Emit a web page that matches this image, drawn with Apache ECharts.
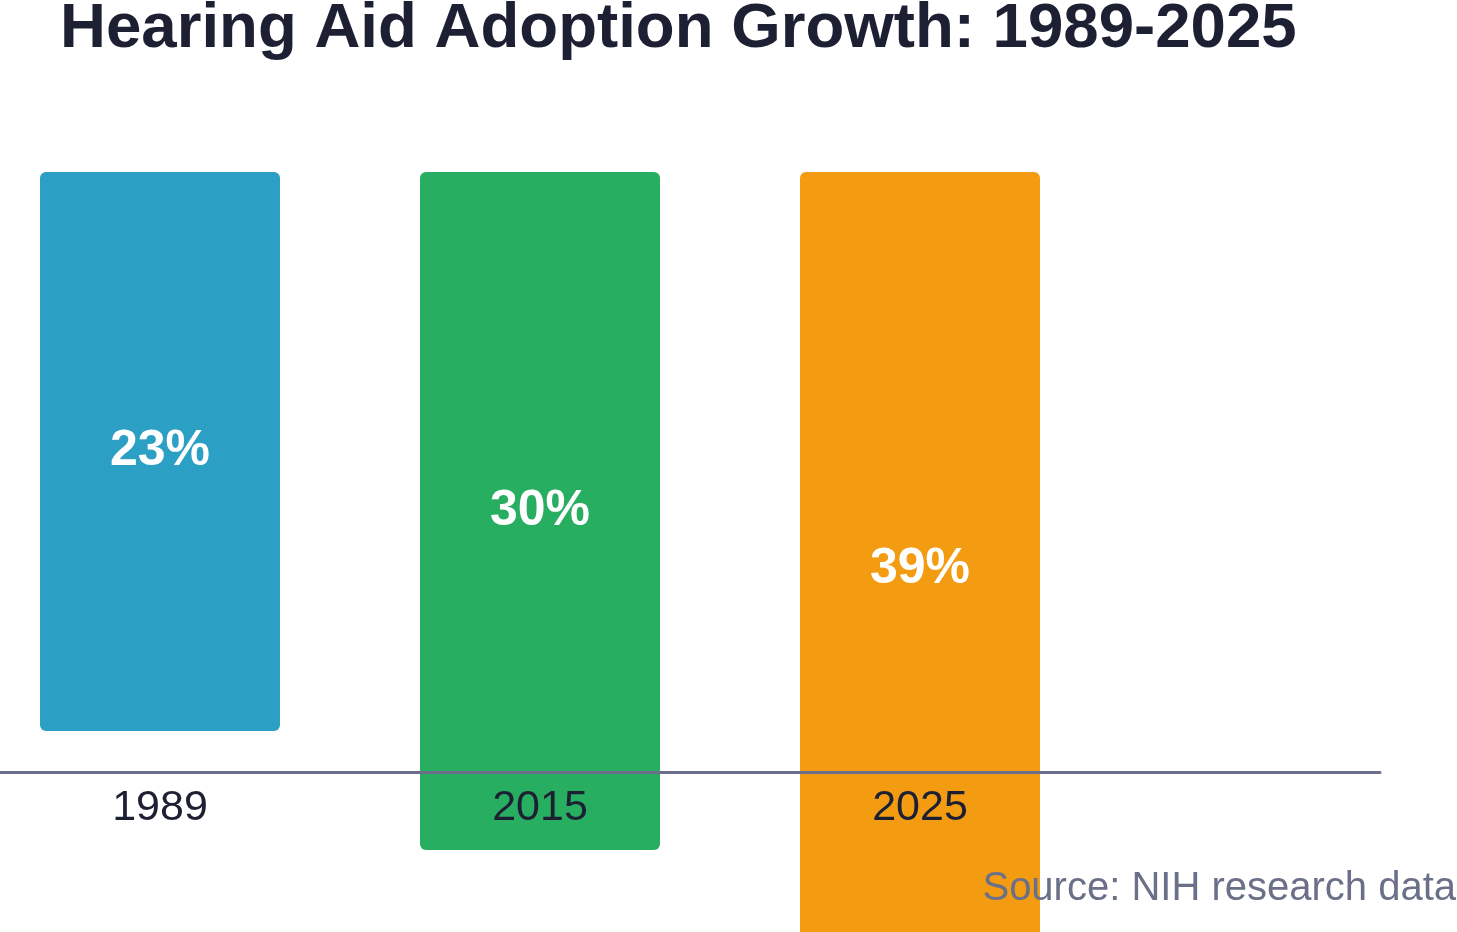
<!DOCTYPE html>
<html>
<head>
<meta charset="utf-8">
<script src="https://cdn.jsdelivr.net/npm/echarts@6/dist/echarts.min.js"></script>
<style>html,body{margin:0;padding:0;background:#fff;}#chart{width:1457px;height:932px;}</style>
</head>
<body>
<div id="chart"></div>
<script>
const categories = ['1989', '2015', '2025'];
const adoption = [23, 30, 39];
const barColors = ['#2b9fc4', '#27ae60', '#f39c12'];
const titleText = 'Hearing Aid Adoption Growth: 1989-2025';
const sourceText = 'Source: NIH research data';

const FONT = '"Liberation Sans", Arial, sans-serif';
const chart = echarts.init(document.getElementById('chart'), null, {renderer: 'canvas'});
chart.setOption({
  backgroundColor: '#ffffff',
  animation: false,
  title: [
    {text: titleText, left: 60, top: -3, padding: 0,
     textStyle: {fontFamily: FONT, fontSize: 63.6, fontWeight: 'bold', color: '#1d2033'}},
    {text: sourceText, right: 1, top: 869, padding: 0, z: 10,
     textStyle: {fontFamily: FONT, fontSize: 40, fontWeight: 'normal', color: '#6b7089'}}
  ],
  grid: [
    {left: -30, width: 1140, top: 172, height: 1217, outerBoundsMode: 'none', containLabel: false},
    {left: -30, width: 1140, top: 770, height: 2, outerBoundsMode: 'none'},
    {left: 0, width: 1380, top: 670, height: 102, outerBoundsMode: 'none'}
  ],
  xAxis: [
    {type: 'category', gridIndex: 0, data: categories, show: false},
    {type: 'category', gridIndex: 1, data: categories, z: 6,
     axisLine: {show: false}, axisTick: {show: false},
     axisLabel: {margin: 15, fontFamily: FONT, fontSize: 43, color: '#1d2033'}},
    {type: 'category', gridIndex: 2, data: [''], z: 6,
     axisLine: {show: true, lineStyle: {color: '#6b6f8a', width: 3}},
     axisTick: {show: false}, axisLabel: {show: false}}
  ],
  yAxis: [
    {type: 'log', gridIndex: 0, inverse: true, min: 6.6, max: 100, show: false},
    {type: 'value', gridIndex: 1, show: false},
    {type: 'value', gridIndex: 2, show: false}
  ],
  series: [{
    type: 'bar',
    xAxisIndex: 0, yAxisIndex: 0,
    clip: true,
    barWidth: 240,
    data: adoption.map((v, i) => ({value: v, itemStyle: {color: barColors[i]}})),
    itemStyle: {borderRadius: 6},
    label: {show: true, position: 'inside', formatter: '{c}%',
      fontFamily: FONT, fontSize: 50, fontWeight: 'bold', color: '#ffffff'}
  }]
});
</script>
</body>
</html>
